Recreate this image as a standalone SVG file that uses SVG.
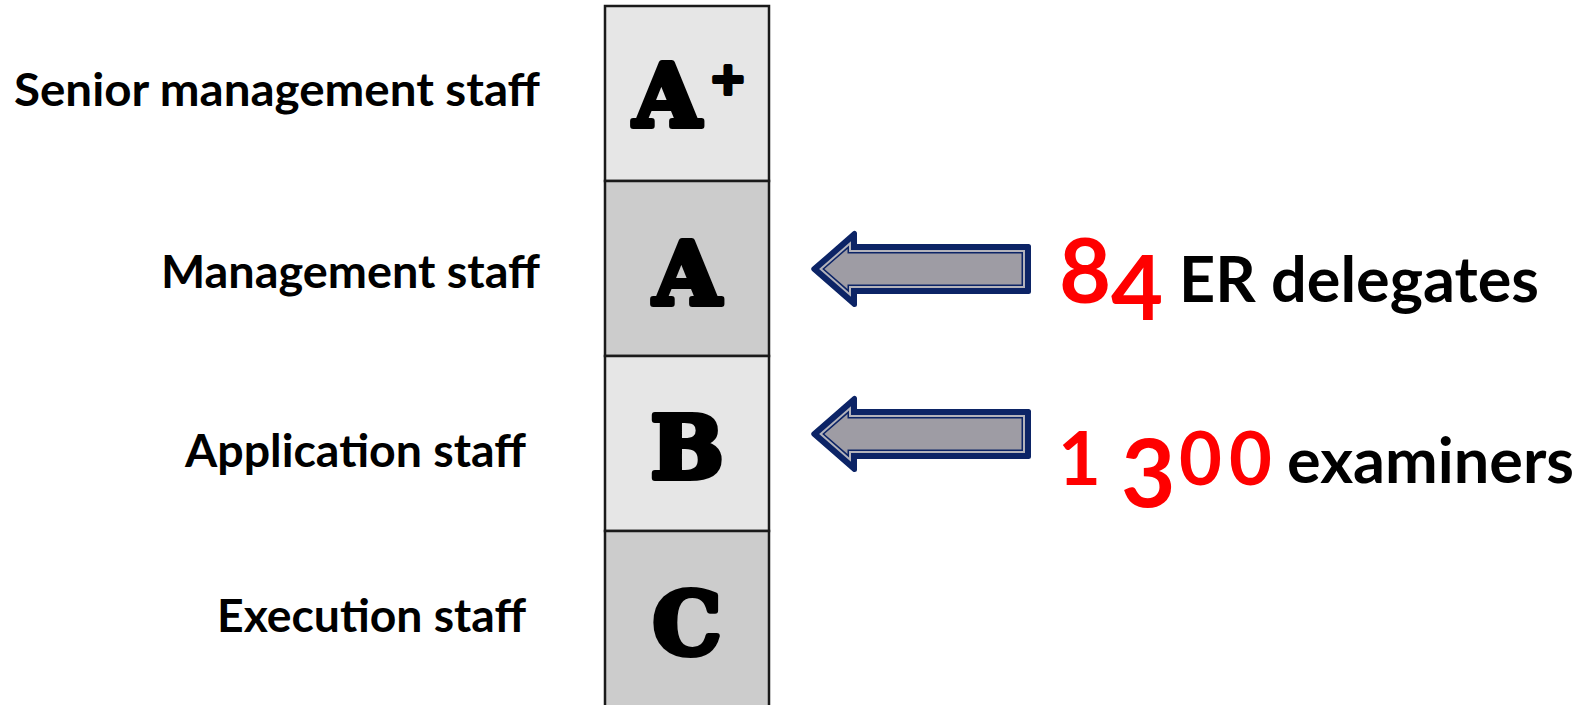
<svg xmlns="http://www.w3.org/2000/svg" width="1596" height="705" viewBox="0 0 1596 705">
<style>
.lbl{font-family:Lato,"Liberation Sans",sans-serif;font-weight:bold;font-size:45px;fill:#000}
.grade{font-family:"DejaVu Serif","Liberation Serif",serif;font-weight:bold;font-size:86px;fill:#000;stroke:#000;stroke-width:6;stroke-linejoin:round;text-anchor:middle}
.big{font-family:Lato,"Liberation Sans",sans-serif;font-weight:bold;fill:#ff0000}
.txt{font-family:Lato,"Liberation Sans",sans-serif;font-weight:bold;font-size:63px;fill:#000}
.box{stroke:#1a1a1a;stroke-width:2.5}
.navy{fill:#0c2466}
</style>
<defs>
<g id="arrow">
<polygon class="navy" stroke="#0c2466" stroke-width="5" stroke-linejoin="round" points="3.8,0 44.5,-35.5 44.5,-22.5 218.5,-22.5 218.5,22.5 44.5,22.5 44.5,35.5"/>
<polygon fill="#b3b3bb" points="9.12,0 41,-27.81 41,-19 215,-19 215,19 41,19 41,27.81"/>
<polygon class="navy" points="12.16,0 39,-23.42 39,-17 213,-17 213,17 39,17 39,23.42"/>
<polygon fill="#9e9ca4" points="14.44,0 37.5,-20.12 37.5,-15.5 211.5,-15.5 211.5,15.5 37.5,15.5 37.5,20.12"/>
</g>
</defs>
<rect width="1596" height="705" fill="#fff"/>
<g id="level-aplus">
<rect class="box" x="605" y="6" width="164" height="175" fill="#e6e6e6"/>
<text class="grade" x="667" y="126">A</text>
<text class="grade" x="728" y="94" style="font-size:44px;stroke-width:4">+</text>
<text class="lbl" x="14" y="106" textLength="526" lengthAdjust="spacingAndGlyphs">Senior management staff</text>
</g>
<g id="level-a">
<rect class="box" x="605" y="181" width="164" height="175" fill="#cccccc"/>
<text class="grade" x="687" y="304">A</text>
<text class="lbl" x="161" y="288" textLength="379" lengthAdjust="spacingAndGlyphs">Management staff</text>
</g>
<g id="level-b">
<rect class="box" x="605" y="356" width="164" height="175" fill="#e6e6e6"/>
<text class="grade" x="687" y="478">B</text>
<text class="lbl" x="185" y="467" textLength="341" lengthAdjust="spacingAndGlyphs">Application staff</text>
</g>
<g id="level-c">
<rect class="box" x="605" y="531" width="164" height="176" fill="#cccccc"/>
<text class="grade" x="687" y="654">C</text>
<text class="lbl" x="217" y="632" textLength="309" lengthAdjust="spacingAndGlyphs">Execution staff</text>
</g>
<g id="connectors">
<use href="#arrow" transform="translate(810,269)"/>
<use href="#arrow" transform="translate(810,434)"/>
</g>
<g id="note-er">
<text class="big" style="font-size:90px"><tspan x="1059" y="303">8</tspan><tspan x="1111" y="320">4</tspan></text>
<text class="txt" x="1179" y="302">ER delegates</text>
</g>
<g id="note-examiners">
<text class="big"><tspan x="1058" y="485" style="font-size:74px">1</tspan><tspan x="1121" y="507" style="font-size:94px">3</tspan><tspan x="1179" y="485" style="font-size:74px">0</tspan><tspan x="1229" y="485" style="font-size:74px">0</tspan></text>
<text class="txt" x="1287" y="483">examiners</text>
</g>
</svg>
